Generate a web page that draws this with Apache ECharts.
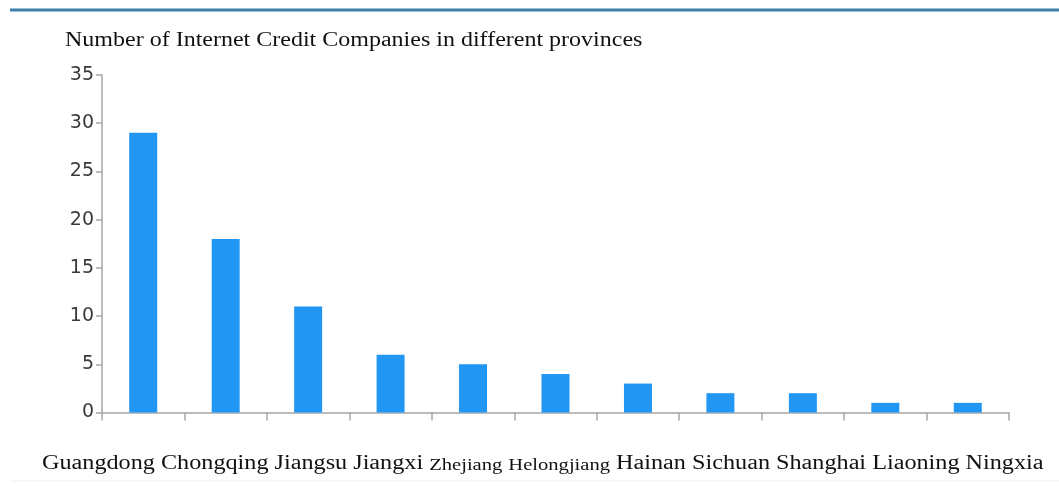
<!DOCTYPE html>
<html>
<head>
<meta charset="UTF-8">
<script src="https://cdn.jsdelivr.net/npm/echarts@6/dist/echarts.min.js"></script>
<style>
  html, body { margin: 0; padding: 0; background: #fff; }
  #c { width: 1059px; height: 486px; }
</style>
</head>
<body>
<div id="c"></div>
<script>
const categories = ["Guangdong", "Chongqing", "Jiangsu", "Jiangxi", "Zhejiang", "Helongjiang",
  "Hainan", "Sichuan", "Shanghai", "Liaoning", "Ningxia"];
const companies = [29, 18, 11, 6, 5, 4, 3, 2, 2, 1, 1];
// these two are set in a smaller font in the original
const smallLabels = ["Zhejiang", "Helongjiang"];
const yTicks = { min: 0, max: 35, interval: 5 };

const serif = '"Liberation Serif", "DejaVu Serif", serif';

// one line of category names, like the source figure
const labelLine = categories
  .map(c => smallLabels.includes(c) ? "{s|" + c + "}" : "{n|" + c + "}")
  .join("{n| }");

const chart = echarts.init(document.getElementById("c"), null, { renderer: "canvas" });
chart.setOption({
  animation: false,
  backgroundColor: "#fff",
  grid: { left: 102, right: 50, top: 75, bottom: 73.5, containLabel: false },
  xAxis: {
    type: "category",
    data: categories,
    axisLine: { lineStyle: { color: "#a6a6a6", width: 1.5 } },
    axisTick: { show: true, length: 8, lineStyle: { color: "#a6a6a6", width: 1.5 } },
    axisLabel: { show: false }
  },
  yAxis: {
    type: "value",
    min: yTicks.min,
    max: yTicks.max,
    interval: yTicks.interval,
    splitLine: { show: false },
    axisLine: { show: true, lineStyle: { color: "#a6a6a6", width: 1.5 } },
    axisTick: { show: true, length: 6, lineStyle: { color: "#a6a6a6", width: 1.5 } },
    axisLabel: { color: "#3a3a3a", fontSize: 19, fontFamily: '"DejaVu Sans", "Open Sans", sans-serif', margin: 8 }
  },
  series: [{
    type: "bar",
    data: companies,
    barWidth: 28,
    itemStyle: { color: "#2196f3" }
  }],
  graphic: [
    { type: "line", shape: { x1: 10, y1: 10, x2: 1059, y2: 10 }, style: { stroke: "#3b80aa", lineWidth: 3 } },
    { type: "line", shape: { x1: 10, y1: 481, x2: 1059, y2: 481 }, style: { stroke: "#eeeeee", lineWidth: 1 } },
    // the source picture is stretched sideways a bit, hence scaleX
    {
      type: "text", x: 65, y: 31, scaleX: 1.2,
      style: { text: "Number of Internet Credit Companies in different provinces", font: "20px " + serif, fill: "#111" }
    },
    {
      type: "text", x: 42, y: 448, scaleX: 1.21,
      style: {
        text: labelLine,
        fill: "#111",
        rich: {
          n: { fontSize: 20, fontFamily: serif, color: "#111", verticalAlign: "bottom", lineHeight: 26 },
          s: { fontSize: 17, fontFamily: serif, color: "#111", verticalAlign: "bottom", lineHeight: 26 }
        }
      }
    }
  ]
});
</script>
</body>
</html>
